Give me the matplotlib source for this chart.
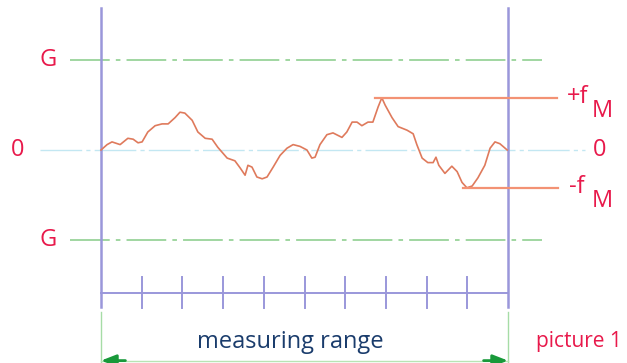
import matplotlib
matplotlib.use("Agg")
import matplotlib.pyplot as plt
import numpy as np

# ---- data (x: measuring-range units 0..10, y: deviation, G limits at +/-1) ----
profile_x = [0.00, 0.15, 0.27, 0.47, 0.66, 0.79, 0.91, 1.01, 1.15, 1.33, 1.50, 1.65,
             1.82, 1.94, 2.06, 2.24, 2.38, 2.56, 2.73, 2.87, 3.10, 3.29, 3.42, 3.54,
             3.61, 3.71, 3.83, 3.96, 4.08, 4.23, 4.40, 4.57, 4.72, 4.89, 5.06, 5.18,
             5.26, 5.38, 5.55, 5.70, 5.92, 6.04, 6.17, 6.29, 6.41, 6.56, 6.68, 6.81,
             6.90, 6.98, 7.15, 7.30, 7.52, 7.67, 7.76, 7.89, 8.03, 8.16, 8.23, 8.30,
             8.45, 8.62, 8.75, 8.87, 8.99, 9.12, 9.26, 9.43, 9.56, 9.68, 9.80, 9.98]
profile_y = [0.00, 0.06, 0.09, 0.06, 0.13, 0.12, 0.08, 0.09, 0.20, 0.27, 0.29, 0.29,
             0.36, 0.42, 0.41, 0.33, 0.20, 0.13, 0.12, 0.03, -0.09, -0.12, -0.20, -0.28,
             -0.17, -0.19, -0.30, -0.32, -0.30, -0.19, -0.06, 0.02, 0.06, 0.04, 0.00, -0.09,
             -0.08, 0.06, 0.17, 0.19, 0.14, 0.20, 0.31, 0.31, 0.27, 0.31, 0.31, 0.48,
             0.58, 0.50, 0.36, 0.26, 0.22, 0.18, 0.06, -0.09, -0.14, -0.14, -0.08, -0.17,
             -0.26, -0.18, -0.24, -0.36, -0.42, -0.40, -0.31, -0.17, 0.02, 0.09, 0.07, 0.00]
limit_G = 1.0
range_start, range_end = 0, 10
scale_ticks = list(range(1, 10))
labels_limit = ["G", "G"]
label_zero = "0"
label_range = "measuring range"
label_picture = "picture 1"

# ---- styling ----
RED = "#e8194b"
PURPLE = "#9a97da"
GREEN = "#86cc88"
BLUE0 = "#c3e7f2"
PROFILE = "#df7a5c"
FM = "#f39274"
NAVY = "#1a3c6c"
FONT = "Open Sans"

fig = plt.figure(figsize=(6.27, 3.63), dpi=100)
ax = fig.add_axes([0, 0, 1, 1])
ax.set_xlim(-101 / 40.7, (627 - 101) / 40.7)
ax.set_ylim((150 - 363) / 90, 150 / 90)
ax.axis("off")

# zero line and limit lines
ax.plot([-1.5, 11.9], [0, 0], color=BLUE0, lw=1.0, dashes=(30, 3, 3, 3))
for gy in (limit_G, -limit_G):
    ax.plot([-0.76, 10.84], [gy, gy], color=GREEN, lw=1.1, dashes=(26, 4, 3, 4))

# measuring range borders
for xb in (range_start, range_end):
    ax.plot([xb, xb], [-1.74, 1.58], color=PURPLE, lw=1.8)
    ax.plot([xb, xb], [-1.80, -2.40], color="#a6dca6", lw=1.0)

# scale
ax.plot([range_start, range_end], [-1.59, -1.59], color=PURPLE, lw=1.4)
for t in scale_ticks:
    ax.plot([t, t], [-1.41, -1.76], color=PURPLE, lw=1.4)

# profile
px = np.array(profile_x)
py = np.array(profile_y)
ax.plot(px, py, color=PROFILE, lw=1.2, solid_joinstyle="round")

# +fM / -fM lines
imax, imin = int(np.argmax(py)), int(np.argmin(py))
ax.plot([px[imax] - 0.17, 11.2], [py[imax], py[imax]], color=FM, lw=1.6)
ax.plot([px[imin] - 0.1, 11.23], [py[imin], py[imin]], color=FM, lw=1.6)

# labels
fs = 17
ax.text(-1.30, limit_G, labels_limit[0], color=RED, fontsize=fs, family=FONT,
        ha="center", va="center")
ax.text(-1.30, -limit_G, labels_limit[1], color=RED, fontsize=fs, family=FONT,
        ha="center", va="center")
ax.text(-2.04, 0, label_zero, color=RED, fontsize=fs, family=FONT, ha="center", va="center")
ax.text(12.26, 0, label_zero, color=RED, fontsize=fs, family=FONT, ha="center", va="center")

ax.text(11.45, py[imax] + 0.01, "+f", color=RED, fontsize=fs, family=FONT, ha="left", va="center")
ax.text(12.05, py[imax] - 0.15, "M", color=RED, fontsize=fs, family=FONT, ha="left", va="center")
ax.text(11.50, py[imin] + 0.01, "-f", color=RED, fontsize=fs, family=FONT, ha="left", va="center")
ax.text(12.05, py[imin] - 0.15, "M", color=RED, fontsize=fs, family=FONT, ha="left", va="center")

ax.text(4.64, -2.13, label_range, color=NAVY, fontsize=17, family=FONT, ha="center", va="center")
ax.text(10.70, -2.13, label_picture, color=RED, fontsize=15, family=FONT, ha="left", va="center")

# range arrow
yarr = -2.34
ax.plot([range_start, range_end], [yarr, yarr], color="#b8e4b4", lw=1.0)
ax.annotate("", xy=(range_start, yarr), xytext=(range_start + 0.6, yarr),
            arrowprops=dict(arrowstyle="-|>,head_length=0.9,head_width=0.35",
                            color="#18993a", lw=2.0, shrinkA=0, shrinkB=0))
ax.annotate("", xy=(range_end, yarr), xytext=(range_end - 0.6, yarr),
            arrowprops=dict(arrowstyle="-|>,head_length=0.9,head_width=0.35",
                            color="#18993a", lw=2.0, shrinkA=0, shrinkB=0))

fig.savefig("out.png", dpi=100)
